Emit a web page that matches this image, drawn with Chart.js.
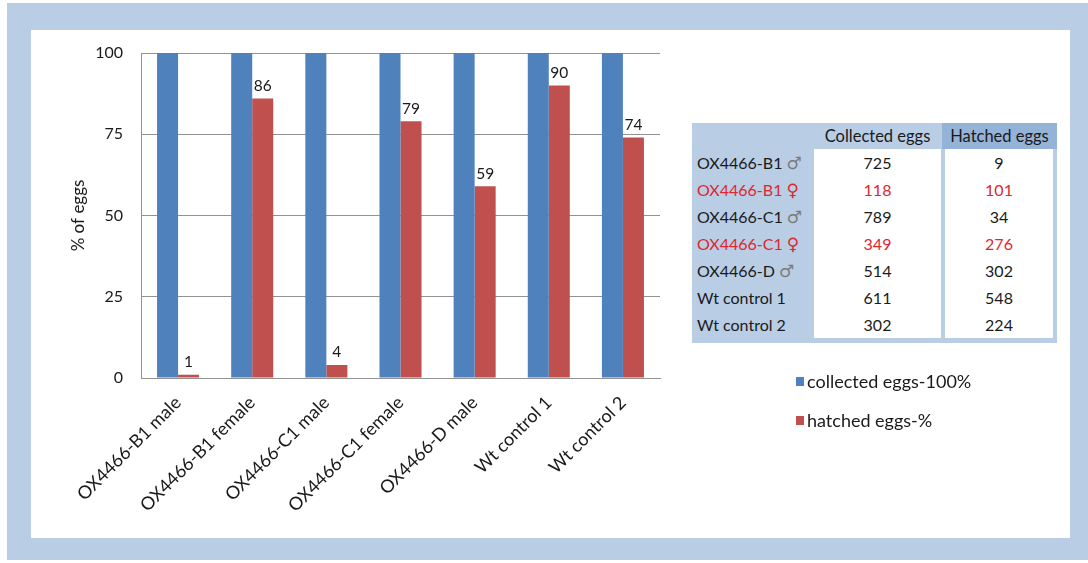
<!DOCTYPE html>
<html>
<head>
<meta charset="utf-8">
<script src="https://cdn.jsdelivr.net/npm/chart.js@4.4.1/dist/chart.umd.min.js"></script>
<style>
  html, body { margin: 0; padding: 0; background: #ffffff; }
  body { width: 1088px; height: 563px; position: relative; overflow: hidden; font-family: Lato, "DejaVu Sans", sans-serif; }
  #frame { position: absolute; left: 7px; top: 3px; width: 1081px; height: 557px; background: #b9cde5; }
  #panel { position: absolute; left: 31px; top: 30px; width: 1039px; height: 508px; background: #ffffff; }
  #chartBox { position: absolute; left: 0; top: 0; width: 1088px; height: 563px; }
  #counts { position: absolute; left: 692px; top: 123px; width: 365px; height: 220px; background: #b9cde5; }
  #counts .cell { position: absolute; height: 27px; line-height: 27px; font-size: 16px; color: #1a1a1a; }
  #counts .female { color: #e0262e; }
  #counts .sym { font-family: "DejaVu Sans", sans-serif; font-size: 17px; color: #7a7a7a; margin-left: 4px; }
  #counts .female .sym { color: #e0262e; }
  #counts .head { font-size: 16.5px; text-align: center; height: 26px; line-height: 26px; top: 0; }
</style>
</head>
<body>
<div id="frame"></div>
<div id="panel"></div>
<div id="chartBox"><canvas id="c" width="1088" height="563"></canvas></div>
<div id="counts"></div>
<script>
// Groups on the x axis
const categories = [
  'OX4466-B1 male', 'OX4466-B1 female', 'OX4466-C1 male', 'OX4466-C1 female',
  'OX4466-D male', 'Wt control 1', 'Wt control 2'
];
// Collected eggs are the 100% reference for each group
const collectedPct = [100, 100, 100, 100, 100, 100, 100];
// Hatched eggs as a percentage of collected
const hatchedPct = [1, 86, 4, 79, 59, 90, 74];
const yTicks = [0, 25, 50, 75, 100];

// Raw egg counts for the side table
const lineNames = ['OX4466-B1', 'OX4466-B1', 'OX4466-C1', 'OX4466-C1', 'OX4466-D', 'Wt control 1', 'Wt control 2'];
const lineSex = ['\u2642', '\u2640', '\u2642', '\u2640', '\u2642', '', ''];
const collectedEggs = [725, 118, 789, 349, 514, 611, 302];
const hatchedEggs = [9, 101, 34, 276, 302, 548, 224];
const tableHeaders = ['Collected eggs', 'Hatched eggs'];

const BLUE = '#4f81bd';
const RED = '#c0504d';
const INK = '#1a1a1a';
const GRID = '#929292';

// ---- side table ----
(function buildTable() {
  const box = document.getElementById('counts');
  const add = (cls, left, top, width, html, extra) => {
    const d = document.createElement('div');
    d.className = 'cell ' + cls;
    d.style.left = left + 'px';
    d.style.top = top + 'px';
    d.style.width = width + 'px';
    if (extra) Object.assign(d.style, extra);
    d.innerHTML = html;
    box.appendChild(d);
    return d;
  };
  // header row
  add('head', 122, 0, 127, tableHeaders[0]);
  add('head', 250, 0, 115, tableHeaders[1], { background: '#95b3d7' });
  // white column bodies
  const bodyH = 27 * lineNames.length;
  add('', 122, 26, 127, '', { background: '#ffffff', height: bodyH + 'px' });
  add('', 253, 26, 108, '', { background: '#ffffff', height: bodyH + 'px' });
  lineNames.forEach((name, i) => {
    const top = 26 + i * 27;
    const fem = lineSex[i] === '\u2640' ? ' female' : '';
    const sym = lineSex[i] ? '<span class="sym">' + lineSex[i] + '</span>' : '';
    add(fem, 5, top, 117, name + sym);
    add(fem, 122, top, 127, String(collectedEggs[i]), { textAlign: 'center' });
    add(fem, 253, top, 108, String(hatchedEggs[i]), { textAlign: 'center' });
  });
})();

// ---- value labels above the hatched bars ----
const valueLabels = {
  id: 'valueLabels',
  afterDatasetsDraw(chart) {
    const ctx = chart.ctx;
    const meta = chart.getDatasetMeta(1);
    ctx.save();
    ctx.font = '15.5px Lato';
    ctx.fillStyle = INK;
    ctx.textAlign = 'center';
    ctx.textBaseline = 'bottom';
    meta.data.forEach((bar, i) => {
      ctx.fillText(String(chart.data.datasets[1].data[i]), bar.x, bar.y - 5);
    });
    ctx.restore();
  }
};

// ---- legend to the right of the plot ----
const sideLegend = {
  id: 'sideLegend',
  afterDraw(chart) {
    const ctx = chart.ctx;
    ctx.save();
    ctx.font = '18px Lato';
    ctx.textBaseline = 'middle';
    ctx.textAlign = 'left';
    chart.data.datasets.forEach((ds, i) => {
      const y = 382 + i * 39;
      ctx.fillStyle = ds.backgroundColor;
      ctx.fillRect(796, y - 5, 8, 9);
      ctx.fillStyle = INK;
      ctx.fillText(ds.label, 807, y);
    });
    ctx.restore();
  }
};

new Chart(document.getElementById('c'), {
  type: 'bar',
  data: {
    labels: categories,
    datasets: [
      { label: 'collected eggs-100%', data: collectedPct, backgroundColor: BLUE },
      { label: 'hatched eggs-%', data: hatchedPct, backgroundColor: RED }
    ]
  },
  options: {
    responsive: false,
    animation: false,
    devicePixelRatio: 1,
    layout: { padding: { left: 60, right: 428, top: 53, bottom: 35 } },
    datasets: { bar: { categoryPercentage: 0.567, barPercentage: 1.0 } },
    plugins: { legend: { display: false }, tooltip: { enabled: false } },
    scales: {
      x: {
        grid: { display: false },
        border: { display: true, color: GRID, width: 1 },
        ticks: {
          minRotation: 45, maxRotation: 45, autoSkip: false,
          font: { family: 'Lato', size: 18 }, color: INK, padding: 6
        },
        afterFit(scale) { scale.height = 150; }
      },
      y: {
        min: 0, max: 100,
        afterBuildTicks(scale) { scale.ticks = yTicks.map(v => ({ value: v })); },
        grid: { color: GRID, drawTicks: false, lineWidth: 1 },
        border: { display: true, color: GRID, width: 1 },
        ticks: { font: { family: 'Lato', size: 16 }, color: INK, padding: 18 },
        title: {
          display: true, text: '% of eggs', color: INK,
          font: { family: 'Lato', size: 17 }, padding: { top: 8, bottom: 0 }
        },
        afterFit(scale) { scale.width = 81; }
      }
    }
  },
  plugins: [valueLabels, sideLegend]
});
</script>
</body>
</html>
